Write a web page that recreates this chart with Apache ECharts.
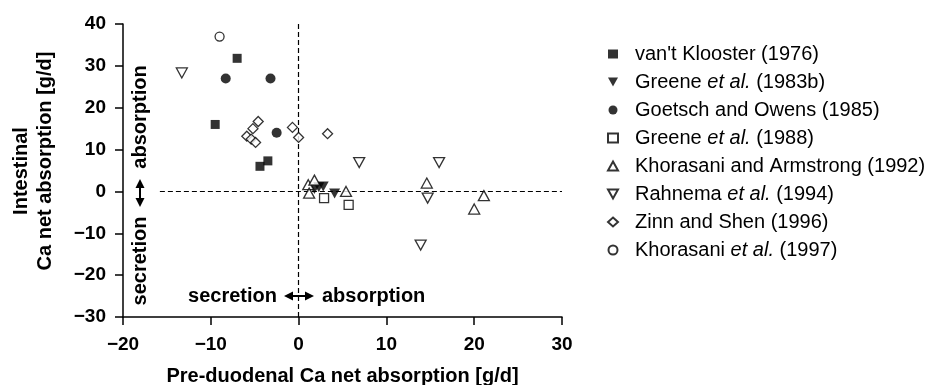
<!DOCTYPE html>
<html>
<head>
<meta charset="utf-8">
<script src="https://cdn.jsdelivr.net/npm/echarts@6/dist/echarts.min.js"></script>
<style>
html,body{margin:0;padding:0;background:#fff;}
#chart{width:928px;height:385px;}
</style>
</head>
<body>
<div id="chart"></div>
<script>
// ---- Data (x = pre-duodenal Ca net absorption, y = intestinal Ca net absorption, g/d)
const seriesNames = [
  "van't Klooster (1976)",
  "Greene et al. (1983b)",
  "Goetsch and Owens (1985)",
  "Greene et al. (1988)",
  "Khorasani and Armstrong (1992)",
  "Rahnema et al. (1994)",
  "Zinn and Shen (1996)",
  "Khorasani et al. (1997)"
];
const vantKlooster1976 = [[-7.0, 31.8], [-9.5, 16.0], [-4.4, 6.0], [-3.5, 7.3]];
const greene1983b = [[1.8, 0.6], [2.3, 1.0], [2.8, 1.2], [4.1, -0.5]];
const goetschOwens1985 = [[-8.3, 27.0], [-3.2, 27.0], [-2.5, 14.0]];
const greene1988 = [[2.9, -1.6], [5.7, -3.2]];
const khorasaniArmstrong1992 = [[1.1, 1.6], [1.8, 2.7], [1.2, -0.4], [5.4, 0.0], [14.6, 2.0], [21.1, -1.0], [20.0, -4.2]];
const rahnema1994 = [[-13.3, 28.3], [6.9, 6.9], [16.0, 6.9], [14.7, -1.6], [13.9, -12.8]];
const zinnShen1996 = [[-4.6, 16.7], [-5.2, 15.0], [-5.9, 13.2], [-5.4, 12.5], [-4.9, 11.7], [-0.7, 15.3], [0.0, 12.9], [3.3, 13.8]];
const khorasani1997 = [[-9.0, 37.0]];

const xTicks = [-20, -10, 0, 10, 20, 30];
const yTicks = [-30, -20, -10, 0, 10, 20, 30, 40];
const hRefLine = [[-15.8, 0], [30, 0]];
const vRefLine = [[0, -30], [0, 40]];

// ---- styles
const FONT = "'Liberation Sans', Arial, Helvetica, sans-serif";
const BLACK = '#000';
const filled = { color: BLACK, borderColor: BLACK, borderWidth: 0 };
const open = { color: '#fff', borderColor: BLACK, borderWidth: 1.3 };
const DOWN_TRI = 'path://M0,0 L10,0 L5,9 Z';

const markerDefs = [
  { data: vantKlooster1976, symbol: 'rect', size: 9, style: filled, rot: 0, icon: 'rect' },
  { data: greene1983b, symbol: 'triangle', size: [11, 10], style: filled, rot: 180, icon: DOWN_TRI },
  { data: goetschOwens1985, symbol: 'circle', size: 10, style: filled, rot: 0, icon: 'circle' },
  { data: greene1988, symbol: 'rect', size: 9, style: open, rot: 0, icon: 'rect' },
  { data: khorasaniArmstrong1992, symbol: 'triangle', size: [11, 10], style: open, rot: 0, icon: 'triangle' },
  { data: rahnema1994, symbol: 'triangle', size: [11, 10], style: open, rot: 180, icon: DOWN_TRI },
  { data: zinnShen1996, symbol: 'diamond', size: [10, 10], style: open, rot: 0, icon: 'diamond' },
  { data: khorasani1997, symbol: 'circle', size: 9, style: open, rot: 0, icon: 'circle' }
];

const dashStyle = { color: BLACK, width: 1.2, type: [5, 3] };

const series = markerDefs.map((d, i) => {
  const s = {
    name: seriesNames[i],
    type: 'scatter',
    data: d.data,
    symbol: d.symbol,
    symbolSize: d.size,
    symbolRotate: d.rot,
    itemStyle: d.style,
    z: 3 + i,
    emphasis: { disabled: true },
    silent: true
  };
  if (i === 0) {
    s.markLine = {
      silent: true,
      symbol: ['none', 'none'],
      label: { show: false },
      lineStyle: dashStyle,
      animation: false,
      data: [
        [{ coord: hRefLine[0] }, { coord: hRefLine[1] }],
        [{ coord: vRefLine[0] }, { coord: vRefLine[1] }]
      ],
      z: 1
    };
  }
  return s;
});

const minusFmt = v => (v < 0 ? '\u2212' + Math.abs(v) : String(v));

const chart = echarts.init(document.getElementById('chart'), null, { renderer: 'canvas' });

const boldText = { fontFamily: FONT, fontWeight: 'bold', fontSize: 20, fill: BLACK };

const option = {
  animation: false,
  backgroundColor: '#fff',
  grid: { left: 123, top: 24, width: 439, height: 293, containLabel: false, outerBoundsMode: 'none' },
  xAxis: {
    type: 'value',
    min: xTicks[0], max: xTicks[xTicks.length - 1], interval: 10,
    axisLine: { show: true, onZero: false, lineStyle: { color: BLACK, width: 1.5 } },
    axisTick: { show: true, length: 8, inside: false, lineStyle: { color: BLACK, width: 1.5 } },
    splitLine: { show: false },
    axisLabel: { formatter: minusFmt, margin: 18, fontFamily: FONT, fontWeight: 'bold', fontSize: 19, color: BLACK },
    name: 'Pre-duodenal Ca net absorption [g/d]',
    nameLocation: 'middle',
    nameGap: 49,
    nameTextStyle: { fontFamily: FONT, fontWeight: 'bold', fontSize: 20, color: BLACK }
  },
  yAxis: {
    type: 'value',
    min: yTicks[0], max: yTicks[yTicks.length - 1], interval: 10,
    axisLine: { show: true, onZero: false, lineStyle: { color: BLACK, width: 1.5 } },
    axisTick: { show: true, length: 8, inside: false, lineStyle: { color: BLACK, width: 1.5 } },
    splitLine: { show: false },
    axisLabel: { formatter: minusFmt, margin: 17, fontFamily: FONT, fontWeight: 'bold', fontSize: 19, color: BLACK }
  },
  legend: {
    orient: 'vertical',
    left: 602,
    top: 39,
    itemWidth: 10,
    itemHeight: 9,
    itemGap: 8,
    selectedMode: false,
    textStyle: {
      fontFamily: FONT, fontSize: 20, color: BLACK,
      padding: [0, 0, 0, 12],
      rich: { i: { fontFamily: FONT, fontSize: 20, fontStyle: 'italic', color: BLACK } }
    },
    formatter: name => name.replace('et al.', '{i|et al.}'),
    data: seriesNames.map((n, i) => ({ name: n, icon: markerDefs[i].icon }))
  },
  graphic: [
    // Y axis title (two lines, rotated)
    { type: 'text', x: 21, y: 171, rotation: Math.PI / 2, silent: true,
      style: Object.assign({ text: 'Intestinal', align: 'center', verticalAlign: 'middle' }, boldText) },
    { type: 'text', x: 45, y: 161, rotation: Math.PI / 2, silent: true,
      style: Object.assign({ text: 'Ca net absorption [g/d]', align: 'center', verticalAlign: 'middle' }, boldText) },
    // vertical annotation
    { type: 'text', x: 140, y: 117, rotation: Math.PI / 2, silent: true,
      style: Object.assign({ text: 'absorption', align: 'center', verticalAlign: 'middle' }, boldText) },
    { type: 'text', x: 140, y: 261, rotation: Math.PI / 2, silent: true,
      style: Object.assign({ text: 'secretion', align: 'center', verticalAlign: 'middle' }, boldText) },
    { type: 'line', silent: true, shape: { x1: 140, y1: 186, x2: 140, y2: 200 }, style: { stroke: BLACK, lineWidth: 2 } },
    { type: 'polygon', silent: true, shape: { points: [[140, 179], [135.5, 188], [144.5, 188]] }, style: { fill: BLACK } },
    { type: 'polygon', silent: true, shape: { points: [[140, 207], [135.5, 198], [144.5, 198]] }, style: { fill: BLACK } },
    // horizontal annotation
    { type: 'text', x: 277, y: 296, silent: true, z: 10,
      style: Object.assign({ text: 'secretion', align: 'right', verticalAlign: 'middle' }, boldText) },
    { type: 'text', x: 322, y: 296, silent: true, z: 10,
      style: Object.assign({ text: 'absorption', align: 'left', verticalAlign: 'middle' }, boldText) },
    { type: 'line', silent: true, z: 10, shape: { x1: 291, y1: 296, x2: 307, y2: 296 }, style: { stroke: BLACK, lineWidth: 2 } },
    { type: 'polygon', silent: true, z: 10, shape: { points: [[284, 296], [293, 291.5], [293, 300.5]] }, style: { fill: BLACK } },
    { type: 'polygon', silent: true, z: 10, shape: { points: [[314, 296], [305, 291.5], [305, 300.5]] }, style: { fill: BLACK } }
  ],
  series: series
};

chart.setOption(option);
</script>
</body>
</html>
